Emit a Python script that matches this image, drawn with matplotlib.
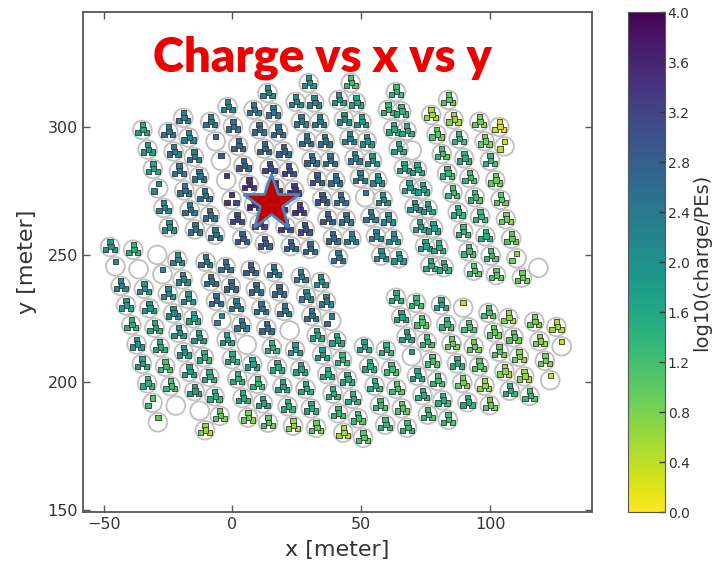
"""Charge footprint of one air shower on the tank array."""
import numpy as np
import matplotlib
matplotlib.use("Agg")
import matplotlib.pyplot as plt
from matplotlib.patches import Circle
from matplotlib.collections import PatchCollection

nan = np.nan

# spacing between neighbouring tanks along one column [m]
STEP_X, STEP_Y = 2.06, -7.63
TANK_R = 3.65

# top tank of each column (x, y in meter) and log10 charge of each tank, top to bottom
col_x0 = [-35.0, -24.9, -19.1, -8.6, -1.9, 8.2, 13.6, 24.5, 29.6, 41.2,
          45.9, 60.3, 63.4, 77.1, 83.7, 95.8, 103.5, 118.7,
          -47.5, -38.5, -29.2, -21.4, -10.5, -2.7, 7.0, 16.0, 26.5, 34.2,
          51.0, 59.5, 63.4, 71.2, 80.9, 89.5, 99.3, 107.0, 117.1, 125.7]
col_y0 = [298.8, 298.0, 303.5, 302.0, 307.8, 306.7, 313.3, 309.8, 317.2, 310.6,
          317.2, 306.7, 313.7, 304.7, 310.6, 302.0, 300.0, 244.8,
          253.0, 251.9, 249.9, 247.9, 247.2, 245.2, 244.0, 243.2, 241.3, 239.3,
          213.9, 212.7, 233.1, 231.1, 230.3, 229.2, 227.2, 225.2, 223.7, 221.7]
col_charge = [
    [1.6, 1.8, 1.6, 2.0, 2.0, 1.9],
    [2.3, 2.3, 2.3, 2.3, 2.4, 2.4],
    [2.2, 2.1, 2.3, 2.4, 2.4, 2.5, 2.4],
    [2.3, 2.6, 2.8, 3.4, 3.3, 3.1, 2.8],
    [2.2, 2.4, 2.6, 2.8, 3.4, 3.5, 3.2, 2.8],
    [2.3, 2.5, 2.7, 3.1, 3.6, 3.6, 3.2, 2.7],
    [2.1, 2.3, 2.5, 2.7, 3.1, 3.4, 3.3, 3.0, 2.6],
    [2.1, 2.3, 2.5, 2.6, 2.8, 2.9, 2.8, 2.6, 2.4],
    [1.9, 2.1, 2.3, 2.4, 2.5, 2.5, 2.5, 2.4, 2.2],
    [1.8, 2.0, 2.2, 2.2, 2.3, 2.3, 2.3, 2.2, 2.0],
    [1.2, 1.6, 1.8, 1.9, 2.0, 2.0, 2.1, 2.0, 1.9, 1.8],
    [1.3, 1.5, 1.6, 1.6, 1.7, 1.8, 1.7, 1.6, 1.5],
    [1.3, 1.4, 1.5, nan, 1.6, 1.6, 1.7, 1.6, 1.5, 1.4],
    [0.5, 1.0, 1.2, 1.3, 1.2, 1.4, 1.3, 1.2, 1.1],
    [1.0, 0.6, 1.3, 1.4, 1.2, 1.2, 1.3, 1.4, 1.2, 1.0],
    [0.8, 0.8, 1.3, 0.9, 1.0, 0.8, 1.0, 0.7, 0.9],
    [0.2, 0.3],
    [nan],
    [1.8, 2.0, 2.1, 1.7, 1.4, 1.9, 1.6, 1.4, 1.1, 1.0],
    [1.4, nan, 1.8, 1.8, 1.5, 1.5, 1.2, 1.2, nan],
    [nan, 2.0, 2.0, 2.0, 1.8, 1.8, 1.7, 1.6, nan, 0.6],
    [2.0, 2.1, 1.9, 1.6, 1.8, 1.4, 1.5, 1.4, 0.9],
    [2.4, 2.5, 2.6, 2.0, 1.7, 1.5, 1.4, 1.5, 0.8],
    [2.5, 2.6, 2.3, 2.3, nan, 1.6, 1.3, 1.6, 1.0],
    [2.7, 2.6, 2.5, 2.6, 1.4, 1.5, 1.6, 1.4, 0.6],
    [2.4, 2.6, 2.4, nan, 1.7, 1.6, 1.5, 1.5, 0.9],
    [2.3, 2.2, 2.4, 1.6, 1.7, 1.5, 1.4, 1.3, 0.5],
    [2.0, 2.2, 2.4, 1.6, 1.3, 1.5, 1.4, 1.2, 1.0],
    [1.6, 1.5, 1.4, 1.2, 1.3],
    [1.4, 1.2, 1.1, 1.0, 1.3],
    [1.5, 1.6, 1.8, 1.8, 1.6, 1.4, 1.3],
    [1.3, 1.1, 1.3, 1.1, 1.2, 1.4, 1.2],
    [1.6, 1.3, 0.9, 1.5, 0.8, 1.5],
    [0.4, 1.1, 0.9, 1.0, 0.6, 0.9],
    [1.1, 0.9, 1.0, 0.6, 1.4],
    [0.6, 1.0, 0.7, 0.6, 1.2],
    [0.8, 0.7, 0.8, 0.3],
    [0.5, 0.4],
]
# tanks where fewer than four PMTs saw light: (column, tank) -> hits
few_hits = {(0, 3): 2, (3, 1): 1, (3, 2): 1, (3, 3): 1, (3, 4): 3, (9, 5): 1,
            (15, 7): 2, (16, 1): 2, (18, 1): 1, (18, 8): 2, (18, 9): 1,
            (20, 1): 1, (22, 3): 2, (27, 2): 2, (30, 3): 1, (33, 0): 1,
            (36, 3): 1, (37, 1): 1}

# PMT positions inside a tank [m] and their small spread in log10 charge
pmt_dx = [0.0, -1.7, 1.7, 0.3]
pmt_dy = [1.95, -1.0, -1.0, 0.1]
pmt_spread = [0.0, 0.15, -0.12, 0.06]

core_x, core_y = 15.0, 270.2
cbar_ticks = [0.0, 0.4, 0.8, 1.2, 1.6, 2.0, 2.4, 2.8, 3.2, 3.6, 4.0]

tank_x, tank_y = [], []
pmt_x, pmt_y, pmt_q = [], [], []
for c, (x0, y0, charges) in enumerate(zip(col_x0, col_y0, col_charge)):
    for i, q in enumerate(charges):
        tx = x0 + i * STEP_X
        ty = y0 + i * STEP_Y
        tank_x.append(tx)
        tank_y.append(ty)
        if np.isnan(q):
            continue
        for k in range(few_hits.get((c, i), 4)):
            pmt_x.append(tx + pmt_dx[k])
            pmt_y.append(ty + pmt_dy[k])
            pmt_q.append(q + pmt_spread[k])

fig = plt.figure(figsize=(7.14, 5.71), dpi=100)
ax = fig.add_axes([83 / 714, 1 - 512 / 571, 509 / 714, 500 / 571])
cax = fig.add_axes([628 / 714, 1 - 512 / 571, 37 / 714, 500 / 571])

tanks = PatchCollection([Circle((x, y), TANK_R) for x, y in zip(tank_x, tank_y)],
                        facecolor="none", edgecolor="#c0c0c0", linewidth=1.3,
                        zorder=1)
ax.add_collection(tanks)
sc = ax.scatter(pmt_x, pmt_y, c=pmt_q, cmap="viridis_r", vmin=0, vmax=4,
                marker="s", s=15, edgecolors="#333333", linewidths=0.6,
                zorder=3)
ax.plot(core_x, core_y, marker="*", ms=42, mfc="#c00000", mec="#4f81bd",
        mew=2, zorder=5)

ax.set_xlim(-58, 139.5)
ax.set_ylim(149.2, 345)
ax.set_xticks([-50, 0, 50, 100])
ax.set_yticks([150, 200, 250, 300])
ax.tick_params(direction="in", top=True, right=True, length=5, width=1,
               color="#555555", labelcolor="#333333", labelsize=11.5)
for s in ax.spines.values():
    s.set_color("#555555")
    s.set_linewidth(1.3)
ax.set_xlabel("x [meter]", fontsize=16, color="#333333", labelpad=6)
ax.set_ylabel("y [meter]", fontsize=16, color="#333333", labelpad=8)

cb = fig.colorbar(sc, cax=cax, ticks=cbar_ticks, format="%.1f")
cb.ax.tick_params(direction="in", length=4, width=1, color="#333333",
                  labelcolor="#333333", labelsize=10, pad=2)
cb.outline.set_edgecolor("#555555")
cb.set_label("log10(charge/PEs)", fontsize=14, color="#333333")
cb.ax.yaxis.set_label_coords(1.72, 0.5)

fig.text(0.451, 0.898, "Charge vs x vs y", color="#ee0000", fontsize=34,
         fontweight="heavy", family="Lato", ha="center", va="center")

fig.savefig("out.png", dpi=100)
